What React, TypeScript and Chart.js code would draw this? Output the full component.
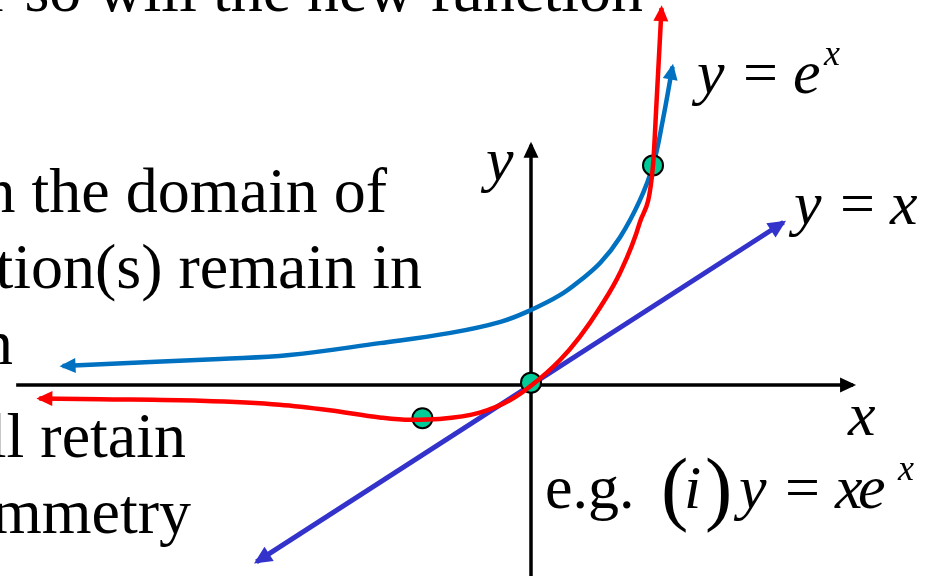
import React, { useEffect, useRef } from "react";
import { Chart, registerables } from "chart.js";

Chart.register(...registerables);

// y = e^x sketch (blue)
const blueX = [-3.84, -3.12, -2.55, -1.98, -1.24, -0.66, -0.25, 0, 0.24, 0.4, 0.57, 0.73, 0.89, 1.0, 1.08, 1.16];
const blueY = [0.24, 0.29, 0.33, 0.38, 0.53, 0.66, 0.8, 0.95, 1.14, 1.32, 1.55, 1.87, 2.33, 2.78, 3.35, 4.03];

// y = x e^x sketch (red)
const redX = [-4.03, -3.53, -2.71, -2.06, -1.65, -1.24, -0.99, -0.75, -0.42, -0.17, 0, 0.24, 0.4, 0.57, 0.73, 0.89, 1.0, 1.03, 1.07];
const redY = [-0.17, -0.18, -0.2, -0.25, -0.32, -0.41, -0.44, -0.43, -0.35, -0.19, -0.01, 0.32, 0.61, 0.99, 1.42, 2.05, 2.78, 3.61, 4.77];

// y = x line (purple)
const lineX = [-2.25, 2.07];
const lineY = [-2.24, 2.06];

// axes extents
const xAxisX = [-4.22, 2.64];
const xAxisY = [0, 0];
const yAxisX = [0, 0];
const yAxisY = [-2.6, 3.04];

// marked points
const dotX = [-0.89, 0, 1.0];
const dotY = [-0.42, 0.03, 2.78];

const pts = (xs: number[], ys: number[]) => xs.map((x, i) => ({ x, y: ys[i] }));

type Run = { t: string; x: number; y: number; size: number; italic?: boolean; align?: CanvasTextAlign };

const TEXT_RUNS: Run[] = [
  // slide body text (cut off at the edges)
  { t: "r so will the new function", x: 643, y: 11, size: 64, align: "right" },
  { t: "n the domain of", x: 387, y: 212, size: 64, align: "right" },
  { t: "tion(s) remain in", x: 422, y: 288, size: 64, align: "right" },
  { t: "n", x: 13, y: 364, size: 64, align: "right" },
  { t: "ll retain", x: 186, y: 457, size: 64, align: "right" },
  { t: "mmetry", x: 191, y: 533, size: 64, align: "right" },
  // y = e^x
  { t: "y", x: 697, y: 93, size: 62, italic: true },
  { t: "=", x: 743, y: 93, size: 62 },
  { t: "e", x: 793, y: 93, size: 62, italic: true },
  { t: "x", x: 824, y: 65, size: 36, italic: true },
  // y = x
  { t: "y", x: 794, y: 224, size: 62, italic: true },
  { t: "=", x: 840, y: 224, size: 62 },
  { t: "x", x: 890, y: 224, size: 62, italic: true },
  // axis labels
  { t: "y", x: 486, y: 180, size: 62, italic: true },
  { t: "x", x: 848, y: 435, size: 62, italic: true },
  // e.g. (i) y = xe^x
  { t: "e.g.", x: 545, y: 508, size: 62 },
  { t: "(", x: 661, y: 515, size: 82 },
  { t: "i", x: 684, y: 508, size: 62, italic: true },
  { t: ")", x: 705, y: 515, size: 82 },
  { t: "y", x: 739, y: 508, size: 62, italic: true },
  { t: "=", x: 785, y: 508, size: 62 },
  { t: "x", x: 835, y: 508, size: 62, italic: true },
  { t: "e", x: 858, y: 508, size: 62, italic: true },
  { t: "x", x: 898, y: 480, size: 36, italic: true },
];

const arrowPlugin = {
  id: "arrowHeads",
  afterDatasetDraw(chart: any, args: any) {
    const ds = chart.data.datasets[args.index] as any;
    if (!ds.arrowEnd && !ds.arrowStart) return;
    const els = args.meta.data;
    if (!els || els.length < 2) return;
    const ctx = chart.ctx as CanvasRenderingContext2D;
    const len = ds.arrowLen || 16;
    const w = ds.arrowWidth || 15;
    const draw = (tip: any, from: any) => {
      const dx = tip.x - from.x;
      const dy = tip.y - from.y;
      const d = Math.hypot(dx, dy) || 1;
      const ux = dx / d;
      const uy = dy / d;
      const tx = tip.x + ux * 3;
      const ty = tip.y + uy * 3;
      const bx = tx - ux * len;
      const by = ty - uy * len;
      ctx.save();
      ctx.beginPath();
      ctx.moveTo(tx, ty);
      ctx.lineTo(bx - (uy * w) / 2, by + (ux * w) / 2);
      ctx.lineTo(bx + (uy * w) / 2, by - (ux * w) / 2);
      ctx.closePath();
      ctx.fillStyle = ds.borderColor;
      ctx.fill();
      ctx.restore();
    };
    const n = els.length;
    if (ds.arrowEnd) draw(els[n - 1], els[n - 2]);
    if (ds.arrowStart) draw(els[0], els[1]);
  },
};

const textPlugin = {
  id: "slideText",
  afterDraw(chart: any) {
    const ctx = chart.ctx as CanvasRenderingContext2D;
    ctx.save();
    ctx.fillStyle = "#000";
    ctx.textBaseline = "alphabetic";
    for (const r of TEXT_RUNS) {
      ctx.font = `${r.italic ? "italic " : ""}${r.size}px "Liberation Serif", "Times New Roman", serif`;
      ctx.textAlign = r.align || "left";
      ctx.fillText(r.t, r.x, r.y);
    }
    ctx.restore();
  },
};

const bgPlugin = {
  id: "whiteBg",
  beforeDraw(chart: any) {
    const ctx = chart.ctx as CanvasRenderingContext2D;
    ctx.save();
    ctx.fillStyle = "#fff";
    ctx.fillRect(0, 0, chart.width, chart.height);
    ctx.restore();
  },
};

export default function App() {
  const ref = useRef<HTMLCanvasElement>(null);

  useEffect(() => {
    if (!ref.current) return;
    const chart = new Chart(ref.current, {
      type: "line",
      data: {
        datasets: [
          {
            label: "y = xe^x",
            data: pts(redX, redY),
            borderColor: "#FF0000",
            borderWidth: 4.5,
            pointRadius: 0,
            cubicInterpolationMode: "monotone",
            order: 0,
            arrowStart: true,
            arrowEnd: true,
            arrowLen: 16,
            arrowWidth: 15,
          } as any,
          {
            label: "points",
            data: pts(dotX, dotY),
            showLine: false,
            pointRadius: 10,
            pointBackgroundColor: "#00CC99",
            pointBorderColor: "#000",
            pointBorderWidth: 2,
            order: 1,
          } as any,
          {
            label: "y = e^x",
            data: pts(blueX, blueY),
            borderColor: "#0070C0",
            borderWidth: 4.5,
            pointRadius: 0,
            tension: 0.4,
            order: 2,
            arrowStart: true,
            arrowEnd: true,
            arrowLen: 16,
            arrowWidth: 15,
          } as any,
          {
            label: "y = x",
            data: pts(lineX, lineY),
            borderColor: "#3333CC",
            borderWidth: 5,
            pointRadius: 0,
            tension: 0,
            order: 3,
            arrowStart: true,
            arrowEnd: true,
            arrowLen: 18,
            arrowWidth: 17,
          } as any,
          {
            label: "x axis",
            data: pts(xAxisX, xAxisY),
            borderColor: "#000",
            borderWidth: 3.5,
            pointRadius: 0,
            order: 4,
            arrowEnd: true,
            arrowLen: 16,
            arrowWidth: 15,
          } as any,
          {
            label: "y axis",
            data: pts(yAxisX, yAxisY),
            borderColor: "#000",
            borderWidth: 3.5,
            pointRadius: 0,
            order: 4,
            arrowEnd: true,
            arrowLen: 16,
            arrowWidth: 15,
          } as any,
        ],
      },
      options: {
        responsive: false,
        animation: false,
        events: [],
        layout: { padding: 0, autoPadding: false },
        plugins: { legend: { display: false }, tooltip: { enabled: false }, title: { display: false } },
        scales: {
          x: { type: "linear", min: -4.3525, max: 3.2623, display: false },
          y: { type: "linear", min: -2.4177, max: 4.8734, display: false },
        },
      },
      plugins: [bgPlugin, arrowPlugin, textPlugin],
    });
    return () => chart.destroy();
  }, []);

  return (
    <div style={{ position: "fixed", left: 0, top: 0, width: 929, height: 576, background: "#fff" }}>
      <canvas ref={ref} width={929} height={576} style={{ display: "block" }} />
    </div>
  );
}
